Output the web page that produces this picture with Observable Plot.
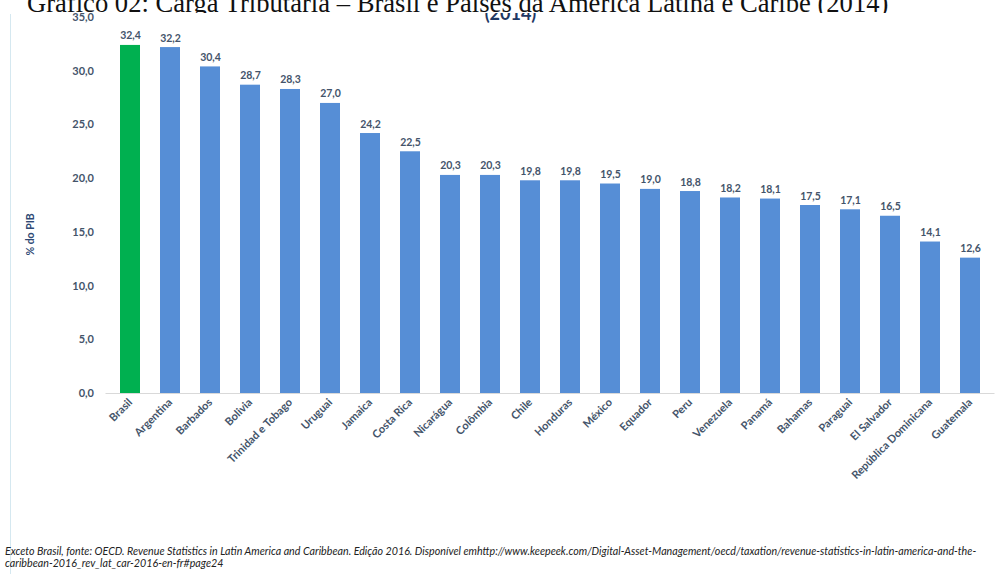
<!DOCTYPE html>
<html>
<head>
<meta charset="utf-8">
<script src="https://cdn.jsdelivr.net/npm/d3@7"></script>
<script src="https://cdn.jsdelivr.net/npm/@observablehq/plot@0.6"></script>
<style>
  html, body { margin: 0; padding: 0; background: #fff; }
  #wrap { position: relative; width: 1002px; height: 576px; overflow: hidden; background: #fff; }
  #title { position: absolute; left: 0; top: 0; width: 1002px; height: 13px; overflow: hidden; background: #fff; z-index: 2; }
  #title span { position: absolute; left: 27px; top: -9px; font: 26.6px "Liberation Serif", "Times New Roman", serif; line-height: 24px; color: #111; white-space: nowrap; }
  #border { position: absolute; left: 10px; top: 14px; width: 1px; height: 560px; background: #d5e8f0; }
  #chart { position: absolute; left: 0; top: 0; }
  #footer { position: absolute; left: 5px; top: 545px; font: italic 10.7px Lato, "Open Sans", sans-serif; color: #222; line-height: 12px; white-space: nowrap; }
</style>
</head>
<body>
<div id="wrap">
  <div id="border"></div>
  <div id="chart"></div>
  <div id="title"><span>Gráfico 02: Carga Tributária – Brasil e Países da América Latina e Caribe (2014)</span></div>
  <div id="footer">
    <div>Exceto Brasil, fonte: OECD. Revenue Statistics in Latin America and Caribbean. Edição 2016. Disponível emhttp://www.keepeek.com/Digital-Asset-Management/oecd/taxation/revenue-statistics-in-latin-america-and-the-</div>
    <div>caribbean-2016_rev_lat_car-2016-en-fr#page24</div>
  </div>
</div>
<script>
const countries = ["Brasil","Argentina","Barbados","Bolivia","Trinidad e Tobago","Uruguai","Jamaica","Costa Rica","Nicarágua","Colômbia","Chile","Honduras","México","Equador","Peru","Venezuela","Panamá","Bahamas","Paraguai","El Salvador","República Dominicana","Guatemala"];
const values = [32.4,32.2,30.4,28.7,28.3,27.0,24.2,22.5,20.3,20.3,19.8,19.8,19.5,19.0,18.8,18.2,18.1,17.5,17.1,16.5,14.1,12.6];
const highlight = "Brasil";
const yTicks = [0,5,10,15,20,25,30,35];
const yLabel = "% do PIB";
const chartSubtitle = "(2014)";

const data = countries.map((c, i) => ({country: c, value: values[i]}));
const fmt = d => d.toFixed(1).replace(".", ",");
const textColor = "#44546a";

const chart = Plot.plot({
  width: 1002,
  height: 540,
  marginLeft: 105.5,
  marginRight: 7.5,
  marginTop: 17,
  marginBottom: 147,
  style: {fontFamily: "Lato, 'Open Sans', sans-serif", fontWeight: "bold", color: textColor, background: "transparent"},
  x: {domain: countries, paddingInner: 0.49, paddingOuter: 0.2, label: null},
  y: {domain: [0, 35], ticks: yTicks, label: null},
  marks: [
    Plot.axisY({ticks: yTicks, tickFormat: fmt, tickSize: 0, tickPadding: 12, fontSize: 11, fill: textColor, label: null}),
    Plot.axisX({tickSize: 0, tickPadding: 7, tickRotate: -45, fontSize: 11, fill: textColor}),
    Plot.barY(data, {x: "country", y: "value", fill: d => d.country === highlight ? "#00b050" : "#568ed6"}),
    Plot.ruleY([0], {stroke: "#d9d9d9"}),
    Plot.text(data, {x: "country", y: "value", text: d => fmt(d.value), dy: -6, lineAnchor: "bottom", fontSize: 10.5, fontWeight: "bold", fill: textColor}),
    Plot.text([yLabel], {frameAnchor: "left", text: d => d, rotate: -90, dx: -75, dy: 50, fontSize: 10.5, fontWeight: "bold", fill: "#2f4a75"}),
    Plot.text([chartSubtitle], {frameAnchor: "top", text: d => d, dx: -40, dy: 2, lineAnchor: "bottom", fontSize: 18, fontWeight: "bold", fill: "#1f3864"})
  ]
});
document.getElementById("chart").appendChild(chart);
</script>
</body>
</html>
